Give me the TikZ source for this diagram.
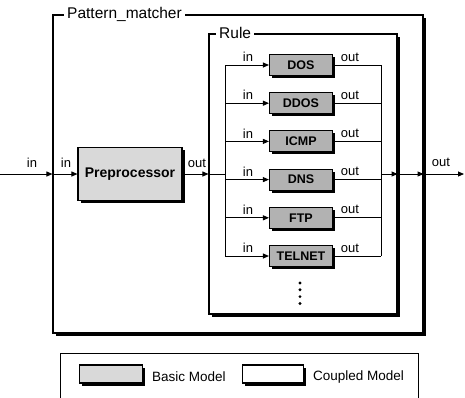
\documentclass[tikz,border=0pt]{standalone}
\usepackage{fontspec}
\setmainfont{Liberation Sans}
\usetikzlibrary{arrows.meta,shadows}
\tikzset{
  boxshadow/.style={drop shadow={shadow xshift=2.5pt,shadow yshift=-2.5pt,fill=black,opacity=1}},
  coupled/.style={rectangle,draw=black,line width=1.1pt,fill=white,boxshadow},
  basic/.style={rectangle,draw=black,line width=1.1pt,fill=gray!30,boxshadow,inner sep=1pt},
  rulev/.style={basic,fill=gray!60,minimum width=63pt,minimum height=21pt,font=\bfseries\fontsize{12.5}{14}\selectfont},
  legendframe/.style={rectangle,draw=black,line width=0.9pt,fill=white},
  wire/.style={line width=0.9pt,black},
  flow/.style={wire,-{Triangle[length=6pt,width=5pt]}},
  port/.style={font=\fontsize{13}{15}\selectfont,inner sep=1pt},
  frametitle/.style={font=\fontsize{15.5}{17}\selectfont,fill=white,inner sep=3pt},
  lab/.style={font=\fontsize{13.5}{15}\selectfont,inner sep=1pt,anchor=west}
}
\begin{document}
\begin{tikzpicture}[x=1pt,y=-1pt]
  \useasboundingbox (0,0) rectangle (465,397);
  \clip (0,0) rectangle (465,397);
  % outer coupled model
  \node[coupled,minimum width=370pt,minimum height=318pt] (pm) at (238,174) {};
  \node[frametitle,anchor=west] (pmtitle) at (64,14) {Pattern\_matcher};
  \node[coupled,minimum width=188pt,minimum height=280pt] (rule) at (303,174) {};
  \node[frametitle,anchor=west] (ruletitle) at (216,33) {Rule};
  \node[basic,minimum width=104pt,minimum height=53pt,font=\bfseries\fontsize{14}{16}\selectfont] (prep) at (130,174) {Preprocessor};
  \coordinate (src) at (0,174);
  \coordinate (sink) at (464,174);
  \coordinate (bin) at (225,174);
  \coordinate (bout) at (381,174);
  % ports of the outer model
  \draw[flow] (src) -- (pm.west);
  \draw[flow] (pm.west) -- (prep.west);
  \draw[flow] (prep.east) -- (rule.west);
  \draw[wire] (rule.west) -- (bin);
  \draw[flow] (bout) -- (rule.east);
  \draw[flow] (rule.east) -- (pm.east);
  \draw[flow] (pm.east) -- (sink);
  \node[port] (srcin) at (32,163) {in};
  \node[port] (prepin) at (66,163) {in};
  \node[port] (prepout) at (197,163) {out};
  \node[port] (pmout) at (441,162) {out};
  % rules
  \foreach \name/\txt [count=\i from 0] in {dos/DOS,ddos/DDOS,icmp/ICMP,dns/DNS,ftp/FTP,telnet/TELNET} {
    \node[rulev] (\name) at (301,{65+38.2*\i}) {\txt};
    \draw[flow] (\name.west -| bin) -- (\name.west);
    \draw[wire] (\name.east) -- (\name.east -| bout);
    \node[port] (\name in) at (248,{57+38.2*\i}) {in};
    \node[port] (\name out) at (350,{57+38.2*\i}) {out};
  }
  \draw[wire] (dos.west -| bin) -- (telnet.west -| bin);
  \draw[wire] (dos.east -| bout) -- (telnet.east -| bout);
  \foreach \k in {0,...,3}
    \fill (300,{283+6.8*\k}) circle (1.6pt);
  % legend
  \node[legendframe,minimum width=358pt,minimum height=90pt] (legend) at (239,398) {};
  \node[basic,minimum width=63pt,minimum height=18pt] (basickey) at (111,374) {};
  \node[lab] (basiclab) at (151,377) {Basic Model};
  \node[coupled,minimum width=61pt,minimum height=18pt] (coupledkey) at (273,374) {};
  \node[lab] (coupledlab) at (312,377) {Coupled Model};
\end{tikzpicture}
\end{document}
